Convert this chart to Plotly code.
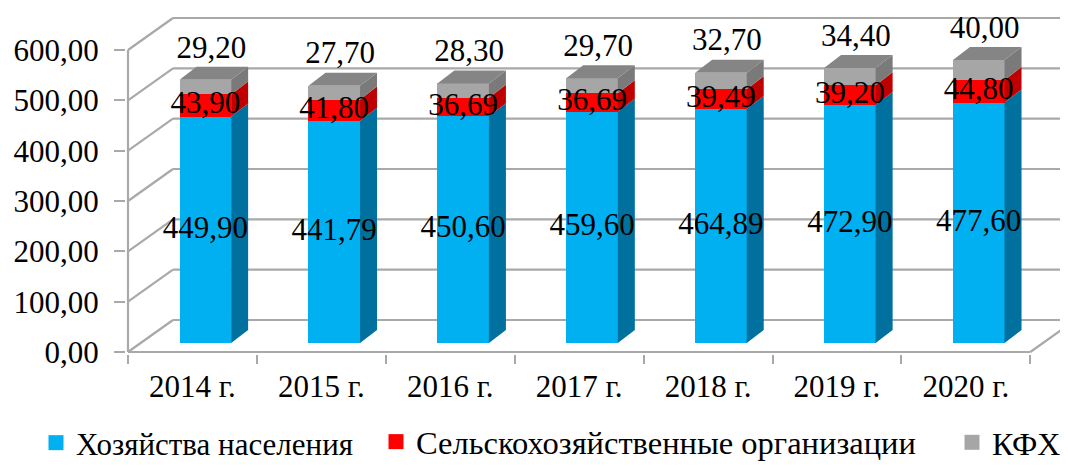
import plotly.graph_objects as go

# ---------------- data ----------------
categories = ["2014 г.", "2015 г.", "2016 г.", "2017 г.", "2018 г.", "2019 г.", "2020 г."]
households = [449.90, 441.79, 450.60, 459.60, 464.89, 472.90, 477.60]
agri_orgs = [43.90, 41.80, 36.69, 36.69, 39.49, 39.20, 44.80]
kfh = [29.20, 27.70, 28.30, 29.70, 32.70, 34.40, 40.00]
series_names = ["Хозяйства населения", "Сельскохозяйственные организации", "КФХ"]
y_ticks = [0, 100, 200, 300, 400, 500, 600]

# ---------------- styling / geometry ----------------
FONT = "Times New Roman, Liberation Serif, serif"
FS = 31
OFF = 8                  # page body margin
W, H = 1068 - OFF, 470 - OFF
SLOT_PX = 128.9          # px per category slot
VAL_PX = 302 / 600       # px per value unit
X0_PX, Y0_PX = 128 - OFF, 352 - OFF   # origin (front) in figure px
ML, MT = 126 - OFF, 0
PLOT_BOTTOM = 354 - OFF
MB = H - PLOT_BOTTOM

def px_to_dx(px):
    return px / SLOT_PX

def px_to_dv(px):
    return px / VAL_PX

DEPTH_X, DEPTH_V = px_to_dx(45), px_to_dv(32)      # full depth of the box
BAR_BASE = px_to_dv(9)                                # bar front face depth shift
SIDE_X, SIDE_V = px_to_dx(17), px_to_dv(13)           # bar depth
BAR_L, BAR_W = 0.40, 0.40

GRID = "#A9A9A9"
front_cols = ["#00B0F0", "#FF0000", "#A6A6A6"]
side_cols = ["#00709E", "#C00000", "#7A7A7A"]
top_col = "#858585"

n = len(categories)
x_range = [-(X0_PX - ML) / SLOT_PX, (W - X0_PX) / SLOT_PX]
y_range = [-(PLOT_BOTTOM - Y0_PX) / VAL_PX, (Y0_PX - MT) / VAL_PX]

fig = go.Figure()
shapes = []

def seg(x0, y0, x1, y1, w=2.2):
    shapes.append(dict(type="line", xref="x", yref="y", x0=x0, y0=y0, x1=x1, y1=y1,
                       line=dict(color=GRID, width=w), layer="below"))

# walls / gridlines
for v in y_ticks:
    seg(0, v, DEPTH_X, v + DEPTH_V)
    seg(DEPTH_X, v + DEPTH_V, n + DEPTH_X + 1, v + DEPTH_V)
seg(0, 0, 0, y_ticks[-1])
seg(0, 0, n, 0)
seg(n, 0, n + DEPTH_X, DEPTH_V)

# bars
series = [households, agri_orgs, kfh]
centers = [i + BAR_L + BAR_W / 2 for i in range(n)]
cum = [0.0] * n
for s, vals in enumerate(series):
    bases = [BAR_BASE + c for c in cum]
    fig.add_trace(go.Bar(x=centers, y=vals, base=bases, width=BAR_W,
                         marker=dict(color=front_cols[s], line=dict(width=0)),
                         showlegend=False, hoverinfo="skip"))
    xs, ys = [], []
    for i in range(n):
        xr = i + BAR_L + BAR_W
        b0 = bases[i]
        b1 = bases[i] + vals[i]
        xs += [xr, xr + SIDE_X, xr + SIDE_X, xr, xr, None]
        ys += [b0, b0 + SIDE_V, b1 + SIDE_V, b1, b0, None]
    fig.add_trace(go.Scatter(x=xs, y=ys, mode="lines", fill="toself",
                             fillcolor=side_cols[s], line=dict(width=0, color=side_cols[s]),
                             showlegend=False, hoverinfo="skip"))
    cum = [c + v for c, v in zip(cum, vals)]

# top faces
xs, ys = [], []
for i in range(n):
    xl = i + BAR_L
    xr = xl + BAR_W
    t = BAR_BASE + cum[i]
    xs += [xl, xl + SIDE_X, xr + SIDE_X, xr, xl, None]
    ys += [t, t + SIDE_V, t + SIDE_V, t, t, None]
fig.add_trace(go.Scatter(x=xs, y=ys, mode="lines", fill="toself", fillcolor=top_col,
                         line=dict(width=0, color=top_col), showlegend=False, hoverinfo="skip"))

def fmt(v):
    return f"{v:.2f}".replace(".", ",")

# data labels
lab_font = dict(family=FONT, size=FS, color="black")
fig.add_trace(go.Scatter(x=centers, y=[BAR_BASE + v / 2 for v in households],
                         mode="text", text=[fmt(v) for v in households], textfont=lab_font,
                         showlegend=False, hoverinfo="skip", cliponaxis=False))
fig.add_trace(go.Scatter(x=centers, y=[BAR_BASE + h + r / 2 for h, r in zip(households, agri_orgs)],
                         mode="text", text=[fmt(v) for v in agri_orgs], textfont=lab_font,
                         showlegend=False, hoverinfo="skip", cliponaxis=False))
fig.add_trace(go.Scatter(x=[c + px_to_dx(6) for c in centers],
                         y=[BAR_BASE + t + px_to_dv(30) for t in cum],
                         mode="text", text=[fmt(v) for v in kfh], textfont=lab_font,
                         showlegend=False, hoverinfo="skip", cliponaxis=False))

# legend entries (one legend box per entry to reproduce spacing)
legend_ids = ["legend", "legend2", "legend3"]
legend_px = [28, 368, 944]
legend_fs = [FS, 32.5, 32]
for s, name in enumerate(series_names):
    fig.add_trace(go.Scatter(x=[None], y=[None], mode="markers", name=name,
                             legend=legend_ids[s],
                             marker=dict(symbol="square", size=15, color=front_cols[s])))

# legend placed so that its text sits fully inside the visible page
leg_common = dict(orientation="h", xref="container", yref="container",
                  y=0.0, xanchor="left", yanchor="bottom",
                  bgcolor="rgba(0,0,0,0)", itemclick=False)

fig.update_layout(
    width=W, height=H,
    margin=dict(l=ML, r=0, t=MT, b=MB, pad=0, autoexpand=False),
    paper_bgcolor="white", plot_bgcolor="white",
    barmode="overlay", bargap=0,
    shapes=shapes,
    font=dict(family=FONT, size=FS, color="black"),
    xaxis=dict(range=x_range, showgrid=False, zeroline=False, showline=False,
               tickmode="array", tickvals=[i + 0.5 for i in range(n)], ticktext=categories,
               ticks="", ticklabelstandoff=11, tickfont=dict(family=FONT, size=FS),
               minor=dict(tickmode="array", tickvals=list(range(n + 1)), ticks="outside",
                          ticklen=9, tickwidth=2, tickcolor=GRID, showgrid=False)),
    yaxis=dict(range=y_range, showgrid=False, zeroline=False, showline=False,
               tickmode="array", tickvals=y_ticks, ticktext=[fmt(v) for v in y_ticks],
               ticks="outside", ticklen=11, tickwidth=2, tickcolor=GRID,
               ticklabelstandoff=9, tickfont=dict(family=FONT, size=FS)),
    legend=dict(x=legend_px[0] / W, font=dict(family=FONT, size=legend_fs[0]), **leg_common),
    legend2=dict(x=legend_px[1] / W, font=dict(family=FONT, size=legend_fs[1]), **leg_common),
    legend3=dict(x=legend_px[2] / W, font=dict(family=FONT, size=legend_fs[2]), **leg_common),
)

fig.write_html("out.html")
